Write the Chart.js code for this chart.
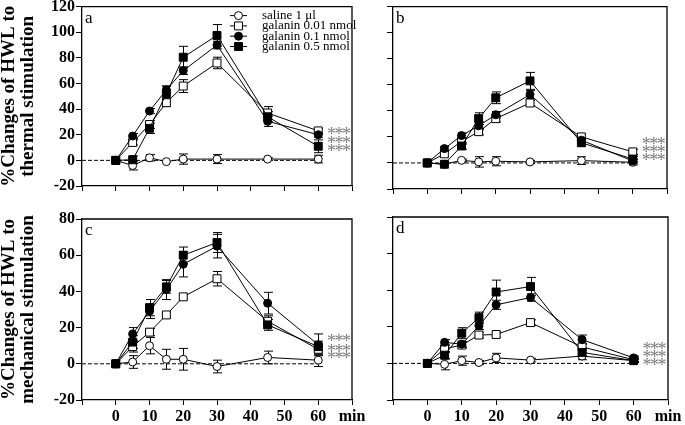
<!DOCTYPE html>
<html><head><meta charset="utf-8">
<script src="https://cdn.jsdelivr.net/npm/chart.js@4.4.0/dist/chart.umd.min.js"></script>
<style>
html,body{margin:0;padding:0;background:#fff;width:685px;height:425px;overflow:hidden;}
canvas{position:absolute;}
</style></head><body>
<canvas id="pa" width="368" height="200" style="left:0;top:0"></canvas>
<canvas id="pb" width="315" height="200" style="left:370px;top:0"></canvas>
<canvas id="pc" width="368" height="225" style="left:0;top:200px"></canvas>
<canvas id="pd" width="315" height="225" style="left:370px;top:200px"></canvas>
<script>
// ---- data ----
const times = [0, 5, 10, 15, 20, 30, 45, 60];
const seriesNames = ['saline 1 μl', 'galanin 0.01 nmol', 'galanin 0.1 nmol', 'galanin 0.5 nmol'];
const xTickValues = [-10, 0, 10, 20, 30, 40, 50, 60, 70];
const xTickLabels = ['', '0', '10', '20', '30', '40', '50', '60', 'min'];
const thermalTicks = [-20, 0, 20, 40, 60, 80, 100, 120];
const mechanicalTicks = [-20, 0, 20, 40, 60, 80];
const thermalTitle = ['%Changes of HWL to', 'thermal stimulation'];
const mechanicalTitle = ['%Changes of HWL to', 'mechanical stimulation'];

// panel a: thermal
const aSaline   = [0, -4, 2, -1, 1, 1, 1, 1];
const aSalineErr= [0, 3.5, 2.5, 0, 4, 3.5, 1, 3];
const aG001     = [0, 14, 28, 45, 58, 76, 37, 23];
const aG001Err  = [0, 2, 3, 3, 5, 4.5, 5, 2];
const aG01      = [0, 19, 38.5, 55, 70, 90, 30.5, 20];
const aG01Err   = [0, 2, 2, 3, 3, 3, 4, 2];
const aG05      = [0, 0.5, 25, 52, 80.5, 97.5, 34, 11];
const aG05Err   = [0, 3, 4, 6, 8.5, 8.5, 4, 5];

// panel b: thermal
const bSaline   = [0, -1, 2, 0.8, 1.3, 0.8, 1.8, 0.5];
const bSalineErr= [0, 1, 1, 4, 3.5, 1, 3, 2];
const bG001     = [0, 7, 16.5, 24, 34, 46, 20, 8.5];
const bG001Err  = [0, 2, 2, 2.5, 2.5, 2, 2, 2];
const bG01      = [0, 11, 21, 28.5, 37, 52.5, 17.5, 1.5];
const bG01Err   = [0, 1.5, 2, 3, 2.5, 3, 2, 1.5];
const bG05      = [0, -1, 13, 34, 50, 63, 15.5, 3];
const bG05Err   = [0, 2, 2.5, 4.5, 4.5, 6.5, 2.5, 2];

// panel c: mechanical
const cSaline   = [0, 1, 10, 2.5, 2.5, -1.5, 3.5, 2];
const cSalineErr= [0, 3.5, 4.5, 5.5, 6, 3.5, 3.5, 3.5];
const cG001     = [0, 9.5, 17.5, 27, 37, 47, 23.5, 8];
const cG001Err  = [0, 3, 2, 1.5, 1.5, 4, 3, 3];
const cG01      = [0, 16.5, 29, 41, 55, 65, 33.5, 10.5];
const cG01Err   = [0, 3.5, 4, 5.5, 7, 6.5, 6, 6];
const cG05      = [0, 12, 31, 42.5, 60, 67, 21.5, 9.5];
const cG05Err   = [0, 3.5, 4.5, 3.5, 4.5, 5.5, 3, 3];

// panel d: mechanical
const dSaline   = [0, -0.5, 1.5, 0.5, 3, 1.8, 4, 1.5];
const dSalineErr= [0, 3, 2.5, 1, 2.5, 1, 2, 1];
const dG001     = [0, 8, 10, 15.5, 15.8, 22.3, 9, 2];
const dG001Err  = [0, 2, 1.5, 1.5, 1.5, 1.5, 2, 1];
const dG01      = [0, 11.5, 10.5, 20.5, 32, 36, 13, 3];
const dG01Err   = [0, 1.5, 1.5, 2, 2.5, 2, 2.5, 1];
const dG05      = [0, 4.5, 16.5, 25, 39, 42, 6, 1.5];
const dG05Err   = [0, 2, 3, 3, 6.5, 5, 2, 1];

const starLabel = '***';

// ---- styles ----
const FONT = 'Liberation Serif';
Chart.defaults.font.family = FONT;
Chart.defaults.color = '#000';
const markerStyles = [
  {pointStyle: 'circle', radius: 4, fill: '#fff'},
  {pointStyle: 'rect', radius: 5.6, fill: '#fff'},
  {pointStyle: 'circle', radius: 4, fill: '#000'},
  {pointStyle: 'rect', radius: 5.6, fill: '#000'}
];

function makePanel(id, p) {
  const series = p.series;
  const datasets = [{
    label: 'baseline',
    data: [{x: -10, y: 0}, {x: 60, y: 0}],
    borderColor: '#000', borderWidth: 1, borderDash: [4, 2],
    pointRadius: 0, order: 10
  }];
  series.forEach((s, k) => {
    const m = markerStyles[k];
    datasets.push({
      label: seriesNames[k],
      data: times.map((t, i) => ({x: t, y: s.v[i]})),
      err: s.e,
      borderColor: '#000', borderWidth: 1,
      backgroundColor: m.fill,
      pointStyle: m.pointStyle, pointRadius: m.radius,
      pointBackgroundColor: m.fill, pointBorderColor: '#000', pointBorderWidth: 1,
      tension: 0, order: 5 - k
    });
  });

  const errPlugin = {
    id: 'err',
    beforeDatasetsDraw(chart) {
      const ctx = chart.ctx, xs = chart.scales.x, ys = chart.scales.y;
      ctx.save();
      ctx.strokeStyle = '#000'; ctx.lineWidth = 1;
      chart.data.datasets.forEach(ds => {
        if (!ds.err) return;
        ds.data.forEach((pt, i) => {
          const e = ds.err[i];
          if (!e) return;
          const px = Math.round(xs.getPixelForValue(pt.x)) + 0.5;
          const y1 = ys.getPixelForValue(pt.y + e), y2 = ys.getPixelForValue(pt.y - e);
          ctx.beginPath();
          ctx.moveTo(px, y1); ctx.lineTo(px, y2);
          ctx.moveTo(px - 4.5, y1); ctx.lineTo(px + 4.5, y1);
          ctx.moveTo(px - 4.5, y2); ctx.lineTo(px + 4.5, y2);
          ctx.stroke();
        });
      });
      ctx.restore();
    },
    afterDraw(chart) {
      const ctx = chart.ctx, a = chart.chartArea, xs = chart.scales.x, ys = chart.scales.y;
      ctx.save();
      // frame top/right
      ctx.strokeStyle = '#000'; ctx.lineWidth = 1.3;
      ctx.beginPath();
      ctx.moveTo(a.left, a.top); ctx.lineTo(a.right, a.top); ctx.lineTo(a.right, a.bottom);
      ctx.stroke();
      // panel letter
      ctx.fillStyle = '#000';
      ctx.font = '17px "' + FONT + '"';
      ctx.textBaseline = 'top'; ctx.textAlign = 'left';
      ctx.fillText(p.letter, a.left + 3, a.top + 3);
      // significance stars
      ctx.fillStyle = '#7a7a7a';
      ctx.font = '18px "' + FONT + '"';
      ctx.letterSpacing = '-1.5px';
      ctx.textBaseline = 'middle';
      const sx = xs.getPixelForValue(62.6);
      p.starY.forEach(v => ctx.fillText(starLabel, sx, ys.getPixelForValue(v) + 3));
      ctx.letterSpacing = '0px';
      // legend
      if (p.legend) {
        const lx = a.left + 156.5, tx = a.left + 180;
        ctx.font = '13px "' + FONT + '"';
        ctx.textBaseline = 'middle';
        seriesNames.forEach((name, k) => {
          const yy = a.top + 9 + k * 10.3;
          ctx.strokeStyle = '#000'; ctx.lineWidth = 1;
          ctx.beginPath(); ctx.moveTo(lx - 8.5, yy); ctx.lineTo(lx + 8.5, yy); ctx.stroke();
          const m = markerStyles[k];
          ctx.fillStyle = m.fill; ctx.strokeStyle = '#000';
          Chart.helpers.drawPoint(ctx, {pointStyle: m.pointStyle, radius: m.radius, borderWidth: 1, rotation: 0}, lx, yy);
          ctx.fillStyle = '#000';
          ctx.fillText(name, tx, yy);
        });
      }
      ctx.restore();
    }
  };

  const tickFont = {family: FONT, size: 16, weight: 'bold'};
  return new Chart(document.getElementById(id), {
    type: 'line',
    data: {datasets},
    options: {
      responsive: false, animation: false, devicePixelRatio: 1,
      layout: {padding: p.pad},
      plugins: {legend: {display: false}, tooltip: {enabled: false}},
      scales: {
        x: {
          type: 'linear', min: -10, max: 70,
          afterFit: s => { s.height = p.xh; s.paddingLeft = 0; s.paddingRight = 0; },
          afterBuildTicks: s => { s.ticks = xTickValues.map(v => ({value: v})); },
          ticks: {display: p.xLabels, autoSkip: false, maxRotation: 0, padding: 2, color: '#000', font: tickFont,
                  callback: (v, i) => xTickLabels[i]},
          grid: {drawOnChartArea: false, drawTicks: true, tickLength: 5, tickColor: '#000', tickWidth: 1},
          border: {display: true, color: '#000', width: 1.3}
        },
        y: {
          type: 'linear', min: p.yTicks[0], max: p.yTicks[p.yTicks.length - 1],
          afterFit: s => { s.width = p.yw; s.paddingTop = 0; s.paddingBottom = 0; },
          afterBuildTicks: s => { s.ticks = p.yTicks.map(v => ({value: v})); },
          ticks: {display: p.yLabels, autoSkip: false, padding: 1, color: '#000', font: tickFont},
          grid: {drawOnChartArea: false, drawTicks: true, tickLength: 6, tickColor: '#000', tickWidth: 1},
          border: {display: true, color: '#000', width: 1.3},
          title: {display: !!p.title, text: p.title || '', color: '#000', padding: 0,
                  font: {family: FONT, size: 19, weight: 'bold', lineHeight: 1.0}}
        }
      }
    },
    plugins: [errPlugin]
  });
}

makePanel('pa', {
  letter: 'a', legend: true, title: thermalTitle, yTicks: thermalTicks, yLabels: true, xLabels: false,
  yw: 82, xh: 8, pad: {left: 0, top: 6, right: 16, bottom: 6},
  starY: [22, 15, 8.5],
  series: [{v: aSaline, e: aSalineErr}, {v: aG001, e: aG001Err}, {v: aG01, e: aG01Err}, {v: aG05, e: aG05Err}]
});
makePanel('pb', {
  letter: 'b', legend: false, title: null, yTicks: thermalTicks, yLabels: false, xLabels: false,
  yw: 23, xh: 8, pad: {left: 0, top: 5, right: 18, bottom: 3},
  starY: [15.8, 9.7, 3.6],
  series: [{v: bSaline, e: bSalineErr}, {v: bG001, e: bG001Err}, {v: bG01, e: bG01Err}, {v: bG05, e: bG05Err}]
});
makePanel('pc', {
  letter: 'c', legend: false, title: mechanicalTitle, yTicks: mechanicalTicks, yLabels: true, xLabels: true,
  yw: 82, xh: 25, pad: {left: 0, top: 19, right: 16, bottom: 0},
  starY: [13.3, 8.3, 3.9],
  series: [{v: cSaline, e: cSalineErr}, {v: cG001, e: cG001Err}, {v: cG01, e: cG01Err}, {v: cG05, e: cG05Err}]
});
makePanel('pd', {
  letter: 'd', legend: false, title: null, yTicks: mechanicalTicks, yLabels: false, xLabels: true,
  yw: 23, xh: 25, pad: {left: 0, top: 17, right: 17, bottom: 0},
  starY: [8.7, 4.4, 0],
  series: [{v: dSaline, e: dSalineErr}, {v: dG001, e: dG001Err}, {v: dG01, e: dG01Err}, {v: dG05, e: dG05Err}]
});
</script>
</body></html>
